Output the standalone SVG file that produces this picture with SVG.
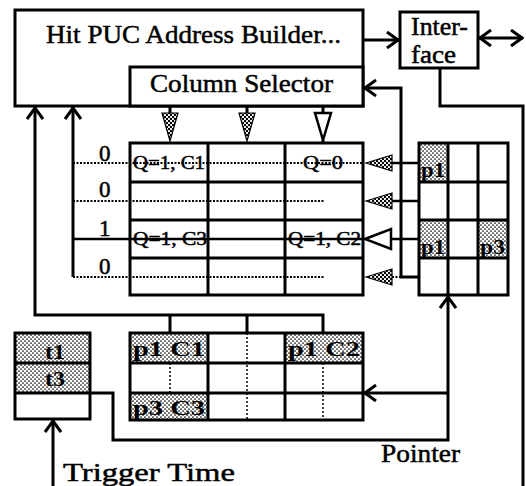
<svg xmlns="http://www.w3.org/2000/svg" width="526" height="486" viewBox="0 0 526 486">
<style>
.box{fill:#fff;stroke:#000;stroke-width:3}
.ln{fill:none;stroke:#000;stroke-width:3}
.dot{fill:none;stroke:#000;stroke-width:2;stroke-dasharray:2 1.5}
.sub{fill:none;stroke:#000;stroke-width:1.5;stroke-dasharray:2 2}
.shade{fill:url(#dots);stroke:none}
.hatch{fill:url(#dots2);stroke:#000;stroke-width:1.2}
.open{fill:#fff;stroke:#000;stroke-width:2.5}
text{font-family:"Liberation Serif","Times New Roman",serif;fill:#000;stroke:#000;stroke-width:0.5}
.big{font-size:26px}
.mid{font-size:23px}
.sm{font-size:19px}
.cell{font-size:21px;font-weight:bold;stroke:none}
</style>
<defs>
<pattern id="dots" width="4" height="4" patternUnits="userSpaceOnUse">
<rect width="4" height="4" fill="#fff"/>
<circle cx="1" cy="1" r="0.85" fill="#000"/>
<circle cx="3" cy="3" r="0.85" fill="#000"/>
</pattern>
<pattern id="dots2" width="4" height="4" patternUnits="userSpaceOnUse">
<rect width="4" height="4" fill="#fff"/>
<circle cx="1" cy="1" r="1.2" fill="#000"/>
<circle cx="3" cy="3" r="1.2" fill="#000"/>
</pattern>
<marker id="v" viewBox="0 0 14 18" refX="13" refY="9" markerWidth="14" markerHeight="18" markerUnits="userSpaceOnUse" orient="auto-start-reverse">
<path d="M1,1 L12,9 L1,17" fill="none" stroke="#000" stroke-width="3"/>
</marker>
</defs>
<rect width="526" height="486" fill="#fff"/>

<g id="builder">
<rect class="box" x="15" y="10" width="348" height="96"/>
<text class="big" x="46" y="43" textLength="295" lengthAdjust="spacingAndGlyphs">Hit PUC Address Builder...</text>
</g>
<g id="column-selector">
<rect class="box" x="130" y="67" width="233" height="39"/>
<text class="big" x="150" y="92" textLength="183" lengthAdjust="spacingAndGlyphs">Column Selector</text>
</g>
<g id="interface">
<rect class="box" x="400" y="12" width="78" height="56"/>
<text class="big" x="411" y="35" textLength="57" lengthAdjust="spacingAndGlyphs">Inter-</text>
<text class="big" x="411" y="63" textLength="45" lengthAdjust="spacingAndGlyphs">face</text>
</g>

<g id="main-grid">
<rect class="box" x="130" y="143" width="233" height="152"/>
<path class="ln" d="M130,182H363M130,220H363M130,258H363M208,143V295M285,143V295"/>
<text class="mid" x="99" y="161">0</text>
<text class="mid" x="99" y="197">0</text>
<text class="mid" x="99" y="236">1</text>
<text class="mid" x="99" y="274">0</text>
<text class="sm" x="133" y="169" textLength="72" lengthAdjust="spacingAndGlyphs">Q=1, C1</text>
<text class="sm" x="303" y="169" textLength="40" lengthAdjust="spacingAndGlyphs">Q=0</text>
<text class="sm" x="133" y="245" textLength="74" lengthAdjust="spacingAndGlyphs">Q=1, C3</text>
<text class="sm" x="288" y="245" textLength="73" lengthAdjust="spacingAndGlyphs">Q=1, C2</text>
</g>

<g id="p-grid">
<rect class="shade" x="419" y="143" width="29" height="39"/>
<rect class="shade" x="419" y="220" width="29" height="38"/>
<rect class="shade" x="478" y="220" width="30" height="38"/>
<rect class="box" x="419" y="143" width="89" height="152" style="fill:none"/>
<path class="ln" d="M419,182H508M419,220H508M419,258H508M448,143V295M478,143V295"/>
<text class="cell" x="421" y="177" textLength="24" lengthAdjust="spacingAndGlyphs">p1</text>
<text class="cell" x="421" y="254" textLength="24" lengthAdjust="spacingAndGlyphs">p1</text>
<text class="cell" x="480" y="254" textLength="25" lengthAdjust="spacingAndGlyphs">p3</text>
</g>

<g id="t-table">
<rect class="shade" x="15" y="333" width="75" height="60"/>
<rect class="box" x="15" y="333" width="75" height="86" style="fill:none"/>
<path class="ln" d="M15,363H90M15,393H90"/>
<text class="cell" x="45" y="359" textLength="20" lengthAdjust="spacingAndGlyphs">t1</text>
<text class="cell" x="45" y="386" textLength="20" lengthAdjust="spacingAndGlyphs">t3</text>
</g>

<g id="bottom-table">
<rect class="shade" x="130" y="333" width="78" height="30"/>
<rect class="shade" x="285" y="333" width="78" height="30"/>
<rect class="shade" x="130" y="393" width="78" height="27"/>
<path class="sub" d="M170,363V393M247,333V420M323,363V420"/>
<rect class="box" x="130" y="333" width="233" height="87" style="fill:none"/>
<path class="ln" d="M130,363H363M130,393H363M208,333V420M285,333V420"/>
<text class="cell" x="133" y="356" textLength="72" lengthAdjust="spacingAndGlyphs">p1 C1</text>
<text class="cell" x="288" y="356" textLength="72" lengthAdjust="spacingAndGlyphs">p1 C2</text>
<text class="cell" x="133" y="415" textLength="72" lengthAdjust="spacingAndGlyphs">p3 C3</text>
</g>

<g id="labels">
<text class="big" x="381" y="462" textLength="79" lengthAdjust="spacingAndGlyphs">Pointer</text>
<text class="big" x="63" y="481" textLength="172" lengthAdjust="spacingAndGlyphs">Trigger Time</text>
</g>

<g id="connectors">
<path class="ln" d="M363,40H399" marker-end="url(#v)"/>
<path class="ln" d="M479,38H523" marker-start="url(#v)" marker-end="url(#v)"/>
<path class="ln" d="M440,68V106H523V486"/>
<path class="ln" d="M419,277H401V88H364" marker-end="url(#v)"/>
<path class="ln" d="M73,277V107" marker-end="url(#v)"/>
<path class="dot" d="M73,163H363"/>
<path class="dot" d="M73,201H325"/>
<path class="ln" d="M73,239H363" style="stroke-width:2.5"/>
<path class="dot" d="M73,277H325"/>
<path class="ln" d="M170,333V315M247,333V315M323,333V315H35V107" marker-end="url(#v)"/>
<path class="ln" d="M170,106V114M247,106V114M323,106V114M323,140V143"/>
<polygon class="hatch" points="162,113 178,113 170,141"/>
<polygon class="hatch" points="239,113 255,113 247,141"/>
<polygon class="open" points="315,113 331,113 323,140"/>
<path class="ln" d="M392,163H419M392,201H419M392,239H419" style="stroke-width:2.5"/>
<path class="dot" d="M392,277H401"/>
<polygon class="hatch" points="366,163 392,155 392,171"/>
<polygon class="hatch" points="366,201 392,193 392,209"/>
<polygon class="open" points="365,239 391,229 391,249"/>
<polygon class="hatch" points="366,277 392,269 392,285"/>
<path class="ln" d="M90,393H113V440H448V296" marker-end="url(#v)"/>
<path class="ln" d="M448,393H364" marker-end="url(#v)"/>
<path class="ln" d="M53,486V420" marker-end="url(#v)"/>
</g>
</svg>
